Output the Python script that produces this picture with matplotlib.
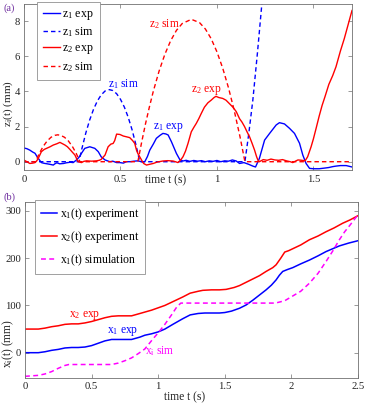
import matplotlib
matplotlib.use("Agg")
import matplotlib.pyplot as plt

plt.rcParams['font.family'] = ['Liberation Serif', 'DejaVu Serif']
plt.rcParams['mathtext.default'] = 'regular'

# ---------------- panel (a) data: (time s, z mm) ----------------
z1_exp = [(0, 0.78), (0.015, 0.74), (0.03, 0.66), (0.045, 0.55), (0.057, 0.48), (0.066, 0.32),
          (0.074, 0.19), (0.09, -0.05), (0.1, -0.08), (0.109, -0.1), (0.12, -0.12), (0.135, -0.15),
          (0.152, -0.19), (0.16, -0.12), (0.17, -0.06), (0.185, -0.12), (0.205, -0.1), (0.22, -0.06),
          (0.24, -0.03), (0.255, -0.05), (0.272, 0.1), (0.285, 0.25), (0.298, 0.48), (0.315, 0.76),
          (0.341, 0.85), (0.367, 0.76), (0.385, 0.57), (0.40, 0.28), (0.42, 0.1), (0.445, 0.0),
          (0.46, 0.03), (0.48, -0.05), (0.497, -0.05), (0.515, -0.08), (0.53, 0.0), (0.55, 0.0),
          (0.57, 0.03), (0.59, 0.05), (0.61, 0.0), (0.626, 0.0), (0.64, 0.3), (0.652, 0.66),
          (0.67, 1.0), (0.686, 1.33), (0.705, 1.5), (0.72, 1.61), (0.735, 1.58), (0.747, 1.52),
          (0.764, 1.14), (0.79, 0.47), (0.807, 0.13), (0.824, 0.04), (0.84, 0.08), (0.86, 0.02),
          (0.88, 0.07), (0.9, 0.03), (0.92, 0.06), (0.94, 0.0), (0.96, 0.05), (0.98, 0.02),
          (1.0, 0.07), (1.02, 0.0), (1.04, 0.05), (1.06, 0.03), (1.08, 0.1), (1.1, 0.04),
          (1.117, -0.1), (1.14, -0.05), (1.165, -0.15), (1.186, -0.25), (1.20, -0.3), (1.22, 0.19),
          (1.247, 1.23), (1.273, 1.61), (1.29, 1.85), (1.307, 2.09), (1.324, 2.22), (1.35, 2.15),
          (1.376, 1.9), (1.402, 1.61), (1.428, 1.05), (1.445, 0.38), (1.462, -0.1), (1.48, -0.38),
          (1.50, -0.4), (1.53, -0.4), (1.56, -0.36), (1.58, -0.33), (1.60, -0.28), (1.617, -0.25),
          (1.64, -0.22), (1.67, -0.22), (1.70, -0.3)]

z1_sim = [(0, 0), (0.285, 0), (0.30, 0.74), (0.32, 1.62), (0.34, 2.36), (0.36, 2.97), (0.38, 3.45),
          (0.40, 3.8), (0.42, 4.02), (0.4425, 4.1), (0.46, 4.05), (0.48, 3.87), (0.50, 3.55),
          (0.52, 3.11), (0.54, 2.53), (0.56, 1.82), (0.58, 0.97), (0.60, 0.0), (1.145, 0.0),
          (1.165, 1.6), (1.186, 3.5), (1.21, 6.2), (1.233, 9.0), (1.25, 11.0)]

z2_exp = [(0, 0.09), (0.015, 0.0), (0.03, -0.1), (0.045, -0.08), (0.057, -0.05), (0.066, 0.05),
          (0.074, 0.19), (0.09, 0.57), (0.105, 0.7), (0.117, 0.76), (0.135, 0.85), (0.152, 0.95),
          (0.17, 1.02), (0.186, 1.1), (0.2, 1.02), (0.212, 0.95), (0.225, 0.85), (0.238, 0.7),
          (0.25, 0.55), (0.264, 0.38), (0.28, 0.0), (0.298, -0.05), (0.31, 0.02), (0.324, 0.05),
          (0.35, 0.03), (0.376, 0.05), (0.39, 0.08), (0.40, 0.13), (0.42, 0.38), (0.436, 0.85),
          (0.45, 1.0), (0.462, 1.04), (0.47, 1.2), (0.48, 1.57), (0.497, 1.55), (0.515, 1.46),
          (0.53, 1.42), (0.548, 1.37), (0.563, 1.2), (0.574, 1.04), (0.583, 0.66), (0.59, 0.47),
          (0.609, 0.1), (0.62, -0.1), (0.635, -0.19), (0.65, -0.15), (0.67, -0.1), (0.69, -0.02),
          (0.72, 0.04), (0.745, 0.06), (0.772, 0.04), (0.785, 0.0), (0.798, -0.05), (0.812, 0.1),
          (0.824, 0.28), (0.837, 0.6), (0.85, 1.04), (0.867, 1.7), (0.88, 1.95), (0.893, 2.18),
          (0.906, 2.45), (0.919, 2.75), (0.935, 3.1), (0.953, 3.35), (0.97, 3.5), (0.985, 3.65),
          (0.995, 3.72), (1.01, 3.65), (1.03, 3.6), (1.047, 3.5), (1.065, 3.3), (1.083, 3.1),
          (1.1, 2.85), (1.117, 2.45), (1.13, 2.25), (1.143, 2.0), (1.156, 1.7), (1.169, 1.42),
          (1.182, 1.05), (1.195, 0.66), (1.205, 0.3), (1.212, 0.1), (1.22, 0.0), (1.24, 0.12),
          (1.26, 0.08), (1.28, 0.15), (1.3, 0.1), (1.32, 0.08), (1.34, 0.12), (1.36, 0.05),
          (1.38, 0.0), (1.393, -0.05), (1.41, 0.05), (1.42, 0.1), (1.44, 0.08), (1.457, 0.05),
          (1.47, 0.28), (1.488, 0.85), (1.50, 1.3), (1.514, 1.9), (1.53, 2.6), (1.545, 3.2),
          (1.56, 3.7), (1.58, 4.4), (1.6, 4.9), (1.617, 5.4), (1.64, 6.3), (1.66, 7.0),
          (1.68, 7.8), (1.70, 8.6)]

z2_sim = [(0, 0), (0.06, 0), (0.08, 0.49), (0.10, 0.88), (0.12, 1.18), (0.14, 1.39), (0.16, 1.5),
          (0.175, 1.53), (0.19, 1.5), (0.21, 1.39), (0.23, 1.18), (0.25, 0.88), (0.27, 0.49),
          (0.29, 0.0), (0.59, 0.0), (0.61, 1.12), (0.63, 2.17), (0.65, 3.12), (0.67, 4.0),
          (0.70, 5.15), (0.73, 6.11), (0.76, 6.88), (0.79, 7.47), (0.82, 7.86), (0.8675, 8.1),
          (0.91, 7.91), (0.94, 7.55), (0.97, 7.0), (1.0, 6.25), (1.03, 5.32), (1.06, 4.2),
          (1.09, 2.89), (1.12, 1.4), (1.145, 0.0), (1.70, 0.0)]

# ---------------- panel (b) data: (time s, x mm) ----------------
x1_exp = [(0, 0), (0.1, 0), (0.15, 2), (0.2, 5), (0.25, 7), (0.3, 10), (0.35, 11), (0.4, 11),
          (0.45, 12), (0.5, 15), (0.55, 20), (0.6, 25), (0.65, 28), (0.7, 28), (0.75, 28),
          (0.8, 28), (0.863, 33), (0.9, 37), (0.95, 40), (1.0, 44), (1.05, 50), (1.11, 60),
          (1.185, 72), (1.24, 80), (1.3, 83), (1.35, 84), (1.4, 84), (1.46, 84), (1.5, 85),
          (1.55, 88), (1.61, 94), (1.66, 101), (1.71, 111), (1.76, 122), (1.81, 133), (1.85, 143),
          (1.885, 154), (1.91, 164), (1.935, 172), (1.97, 176), (2.01, 180), (2.07, 188),
          (2.135, 196), (2.2, 205), (2.26, 214), (2.31, 220), (2.36, 226), (2.43, 232), (2.5, 237)]

x2_exp = [(0, 50), (0.1, 50), (0.15, 52), (0.2, 55), (0.25, 57), (0.3, 60), (0.35, 61), (0.4, 61),
          (0.45, 63), (0.5, 66), (0.55, 70), (0.6, 74), (0.65, 77), (0.7, 78), (0.75, 78), (0.8, 78),
          (0.863, 83), (0.9, 86), (0.95, 90), (1.0, 95), (1.05, 100), (1.11, 108), (1.185, 118),
          (1.24, 126), (1.3, 130), (1.335, 132), (1.4, 133), (1.46, 133), (1.51, 134), (1.57, 138),
          (1.61, 142), (1.66, 149), (1.71, 156), (1.76, 163), (1.81, 172), (1.86, 180),
          (1.885, 186), (1.92, 200), (1.95, 213), (1.98, 216), (2.01, 220), (2.07, 228),
          (2.135, 239), (2.2, 247), (2.26, 256), (2.32, 264), (2.385, 274), (2.44, 281), (2.5, 290)]

x1_sim = [(0, -50), (0.1, -48), (0.15, -45), (0.2, -40), (0.25, -33), (0.3, -27), (0.33, -25),
          (0.65, -25), (0.7, -22), (0.75, -17), (0.8, -11), (0.85, -2), (0.9, 8), (0.963, 30),
          (1.0, 42), (1.05, 60), (1.1, 80), (1.14, 97), (1.17, 105), (1.88, 105), (1.95, 110),
          (2.01, 120), (2.07, 130), (2.135, 147), (2.2, 168), (2.26, 193), (2.31, 215),
          (2.36, 239), (2.4, 256), (2.44, 270), (2.5, 292)]

xticks_a = [0, 0.5, 1, 1.5]
xticklabels_a = ['0', '0.5', '1', '1.5']
yticks_a = [0, 2, 4, 6, 8]
xticks_b = [0, 0.5, 1, 1.5, 2, 2.5]
xticklabels_b = ['0', '0.5', '1', '1.5', '2', '2.5']
yticks_b = [0, 100, 200, 300]

BLUE = '#0000ff'
RED = '#ff0000'
MAG = '#ff00ff'
PURPLE = '#7030a0'
SPINE = '#707070'

W, H = 366, 405
fig = plt.figure(figsize=(W / 100, H / 100), dpi=100)


def px_axes(l, t, r, b):
    return fig.add_axes([l / W, 1 - b / H, (r - l) / W, (b - t) / H])


def split(p):
    return [q[0] for q in p], [q[1] for q in p]


def style(ax):
    for s in ax.spines.values():
        s.set_color(SPINE)
        s.set_linewidth(0.6)
    ax.tick_params(direction='in', length=3, width=0.5, color=SPINE, labelsize=7.7,
                   top=True, right=True, pad=3, labelcolor='#222222')


DASH = (0, (3.2, 2.2))

# ---- panel (a)
axa = px_axes(24, 3.5, 352, 170.5)
l1, = axa.plot(*split(z1_exp), color=BLUE, lw=1.0, label='z$_1$ exp')
l2, = axa.plot(*split(z1_sim), color=BLUE, lw=1.0, ls=DASH, label='z$_1$ sim')
l3, = axa.plot(*split(z2_exp), color=RED, lw=1.0, label='z$_2$ exp')
l4, = axa.plot(*split(z2_sim), color=RED, lw=1.0, ls=DASH, label='z$_2$ sim')
axa.set_xlim(0, 1.7)
axa.set_ylim(-0.5, 9)
axa.set_xticks(xticks_a)
axa.set_xticklabels(xticklabels_a)
axa.set_yticks(yticks_a)
style(axa)
axa.text(0.726, 7.83, 'z$_2$ sim', color=RED, fontsize=8.3, ha='center', va='center')
axa.text(0.517, 4.42, 'z$_1$ sim', color=BLUE, fontsize=8.3, ha='center', va='center')
axa.text(0.75, 1.95, 'z$_1$ exp', color=BLUE, fontsize=8.3, ha='center', va='center')
axa.text(0.944, 4.05, 'z$_2$ exp', color=RED, fontsize=8.3, ha='center', va='center')
leg = axa.legend(loc='upper left', bbox_to_anchor=(37 / W, 1 - 2 / H), bbox_transform=fig.transFigure,
                 fontsize=8.6, handlelength=1.45, handletextpad=0.15, labelspacing=0.28,
                 borderpad=0.5, borderaxespad=0, fancybox=False, framealpha=1)
leg.get_frame().set_edgecolor('#909090')
leg.get_frame().set_linewidth(0.6)
fig.text(166 / W, 1 - 180 / H, 'time t (s)', fontsize=8.3, ha='center', va='center', color='#222222')
fig.text(8 / W, 1 - 104 / H, 'z$_i$(t) (mm)', fontsize=8.0, rotation=90, ha='center', va='center',
         color='#222222')
fig.text(9 / W, 1 - 8 / H, '(a)', fontsize=7.5, color=PURPLE, ha='center', va='center')

# ---- panel (b)
axb = px_axes(25, 201.5, 358, 377.5)
m1, = axb.plot(*split(x1_exp), color=BLUE, lw=1.1, label='x$_1$(t) experiment')
m2, = axb.plot(*split(x2_exp), color=RED, lw=1.1, label='x$_2$(t) experiment')
m3, = axb.plot(*split(x1_sim), color=MAG, lw=1.1, ls=DASH, label='x$_1$(t) simulation')
axb.set_xlim(0, 2.5)
axb.set_ylim(-52.5, 320)
axb.set_xticks(xticks_b)
axb.set_xticklabels(xticklabels_b)
axb.set_yticks(yticks_b)
style(axb)
axb.text(0.45, 78, 'x$_2$ exp', color=RED, fontsize=8.3, ha='center', va='center')
axb.text(0.73, 44, 'x$_1$ exp', color=BLUE, fontsize=8.3, ha='center', va='center')
axb.text(1.01, 4, 'x$_i$ sim', color=MAG, fontsize=8.3, ha='center', va='center')
legb = axb.legend(loc='upper left', bbox_to_anchor=(35 / W, 1 - 200 / H), bbox_transform=fig.transFigure,
                  fontsize=8.5, handlelength=1.4, handletextpad=0.2, labelspacing=0.62,
                  borderpad=0.5, borderaxespad=0, fancybox=False, framealpha=1)
legb.get_frame().set_edgecolor('#909090')
legb.get_frame().set_linewidth(0.6)
fig.text(185 / W, 1 - 397 / H, 'time t (s)', fontsize=8.3, ha='center', va='center', color='#222222')
fig.text(8 / W, 1 - 343 / H, 'x$_i$(t) (mm)', fontsize=8.3, rotation=90, ha='center', va='center',
         color='#222222')
fig.text(9 / W, 1 - 197 / H, '(b)', fontsize=7.5, color=PURPLE, ha='center', va='center')

fig.savefig('out.png', dpi=100)
